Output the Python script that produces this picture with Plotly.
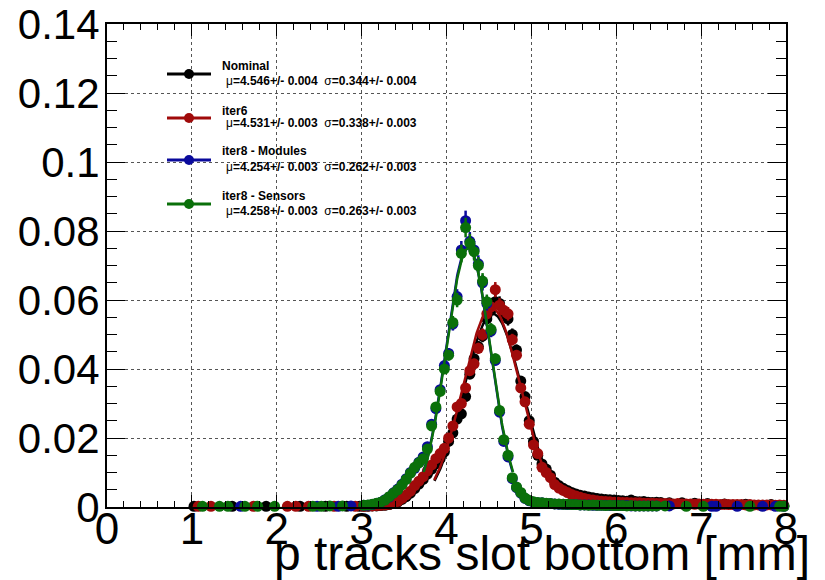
import numpy as np
import plotly.graph_objects as go

# ---------------------------------------------------------------- data
# bin centres (0.05 mm bins) of the populated core region 3.0 - 6.5 mm
core_x = [round(3.025 + 0.05 * k, 3) for k in range(70)]

nominal_core = [
    .0002, .0002, .0003, .0003, .0004, .0005, .0007, .0010, .0014, .0022,
    .0030, .0040, .0053, .0066, .0080, .0095, .0110, .0125, .0140, .0160,
    .0190, .0215, .0255, .0270, .0320, .0385, .0430, .0465, .0495, .0545,
    .0570, .0595, .0590, .0560, .0545, .0500, .0455, .0365, .0320, .0250,
    .0190, .0150, .0125, .0110, .0092, .0072, .0062, .0054, .0048, .0042,
    .0038, .0034, .0032, .0029, .0027, .0025, .0023, .0022, .0021, .0020,
    .0019, .0018, .0017, .0020, .0016, .0015, .0016, .0014, .0013, .0014,
]
iter6_core = [
    .0002, .0003, .0003, .0004, .0005, .0006, .0008, .0011, .0016, .0025,
    .0035, .0046, .0062, .0075, .0088, .0105, .0122, .0140, .0155, .0170,
    .0200, .0235, .0290, .0300, .0345, .0395, .0415, .0460, .0500, .0560,
    .0580, .0630, .0585, .0570, .0560, .0485, .0440, .0345, .0305, .0240,
    .0180, .0155, .0115, .0100, .0085, .0065, .0055, .0048, .0042, .0036,
    .0032, .0028, .0025, .0022, .0020, .0018, .0017, .0016, .0015, .0014,
    .0014, .0013, .0013, .0012, .0012, .0012, .0011, .0011, .0011, .0010,
]
modules_core = [
    .0005, .0005, .0007, .0010, .0014, .0021, .0029, .0041, .0052, .0066,
    .0082, .0100, .0112, .0130, .0145, .0175, .0240, .0285, .0340, .0410,
    .0445, .0530, .0610, .0745, .0830, .0770, .0745, .0705, .0650, .0590,
    .0510, .0425, .0275, .0190, .0145, .0082, .0056, .0040, .0025, .0018,
    .0014, .0012, .0012, .0010, .0010, .0009, .0008, .0008, .0007, .0007,
    .0007, .0006, .0006, .0006, .0005, .0005, .0005, .0005, .0004, .0004,
    .0004, .0004, .0004, .0003, .0003, .0003, .0003, .0003, .0003, .0003,
]
sensors_core = [
    .0005, .0006, .0008, .0011, .0014, .0020, .0030, .0040, .0050, .0064,
    .0080, .0098, .0115, .0128, .0140, .0168, .0235, .0290, .0335, .0400,
    .0440, .0535, .0600, .0735, .0810, .0765, .0740, .0700, .0655, .0595,
    .0515, .0430, .0280, .0195, .0150, .0085, .0058, .0042, .0026, .0019,
    .0015, .0013, .0012, .0011, .0010, .0009, .0009, .0008, .0008, .0007,
    .0007, .0006, .0006, .0005, .0006, .0005, .0005, .0004, .0005, .0004,
    .0004, .0004, .0003, .0004, .0003, .0003, .0003, .0003, .0003, .0003,
]

# sparsely populated tails below 3 mm and above 6.5 mm
nominal_lo_x = [1.025, 1.475, 1.875, 2.275, 2.575, 2.825, 2.975]
nominal_lo_y = [.0002, .0002, .0002, .0002, .0002, .0002, .0002]
nominal_hi_x = [6.525, 6.625, 6.775, 6.925, 7.075, 7.275, 7.525, 7.825]
nominal_hi_y = [.0013, .0012, .0012, .0011, .0010, .0009, .0008, .0007]

iter6_lo_x = [1.075, 1.225, 1.725, 2.125, 2.225, 2.375, 2.675, 2.925]
iter6_lo_y = [.0002, .0002, .0002, .0002, .0002, .0002, .0002, .0002]
iter6_hi_x = [round(6.525 + 0.05 * k, 3) for k in range(30)]
iter6_hi_y = [
    .0010, .0010, .0010, .0009, .0010, .0009, .0009, .0009, .0008, .0009,
    .0008, .0008, .0008, .0008, .0007, .0008, .0007, .0007, .0007, .0007,
    .0006, .0007, .0006, .0006, .0006, .0006, .0006, .0005, .0006, .0005,
]

modules_lo_x = [1.575, 2.475, 2.725, 2.875]
modules_lo_y = [.0002, .0002, .0002, .0003]
modules_hi_x = [6.625, 7.125, 7.175, 7.425, 7.725, 7.875, 7.975]
modules_hi_y = [.0003, .0002, .0002, .0002, .0002, .0002, .0002]

sensors_lo_x = [1.125, 1.325, 1.425, 1.625, 1.775, 1.975, 2.425, 2.525, 2.625, 2.775]
sensors_lo_y = [.0002, .0002, .0002, .0002, .0002, .0002, .0002, .0002, .0003, .0003]
sensors_hi_x = [6.575, 6.825, 7.025, 7.575, 7.925, 7.975]
sensors_hi_y = [.0003, .0002, .0002, .0002, .0002, .0002]

# Gaussian fit results (amplitude, mean, sigma) and their uncertainties
names = ["Nominal", "iter6", "iter8 - Modules", "iter8 - Sensors"]
fit_amp = [0.0560, 0.0577, 0.0755, 0.0750]
fit_mu = [4.546, 4.531, 4.254, 4.258]
fit_mu_err = [0.004, 0.003, 0.003, 0.003]
fit_sigma = [0.344, 0.338, 0.262, 0.263]
fit_sigma_err = [0.004, 0.003, 0.003, 0.003]
colors = ["#000000", "#a00a0a", "#0a0a9c", "#0a700a"]

x_ticks = [0, 1, 2, 3, 4, 5, 6, 7, 8]
y_ticks = [0, 0.02, 0.04, 0.06, 0.08, 0.1, 0.12, 0.14]
y_ticktext = ["0", "0.02", "0.04", "0.06", "0.08", "0.1", "0.12", "0.14"]
x_title = "p tracks slot bottom [mm]"

series = [
    (nominal_lo_x, nominal_lo_y, nominal_core, nominal_hi_x, nominal_hi_y),
    (iter6_lo_x, iter6_lo_y, iter6_core, iter6_hi_x, iter6_hi_y),
    (modules_lo_x, modules_lo_y, modules_core, modules_hi_x, modules_hi_y),
    (sensors_lo_x, sensors_lo_y, sensors_core, sensors_hi_x, sensors_hi_y),
]

# ---------------------------------------------------------------- geometry
W, H = 825, 580
L, R, T, B = 107, 786, 24, 507          # frame of the plotting pad in pixels
FONT = "Liberation Sans, Arial, Helvetica, sans-serif"


def px(x):
    return (x - L) / (R - L)


def py(y):
    return (B - y) / (B - T)


fig = go.Figure()

for i, (lx, ly, cy, hx, hy) in enumerate(series):
    xs = lx + core_x + hx
    ys = ly + cy + hy
    fig.add_trace(go.Scatter(
        x=xs, y=ys, mode="markers",
        marker=dict(size=11, color=colors[i], line=dict(width=0)),
        error_y=dict(type="percent", value=3.5, thickness=2.5, width=0,
                     color=colors[i]),
        cliponaxis=False, showlegend=False, hoverinfo="x+y",
    ))
    # fitted Gaussian over mu +/- 2 sigma
    fx = np.linspace(fit_mu[i] - 2 * fit_sigma[i], fit_mu[i] + 2 * fit_sigma[i], 200)
    fy = fit_amp[i] * np.exp(-0.5 * ((fx - fit_mu[i]) / fit_sigma[i]) ** 2)
    fig.add_trace(go.Scatter(
        x=fx, y=fy, mode="lines",
        line=dict(color=colors[i], width=2.5),
        showlegend=False, hoverinfo="skip",
    ))

# ---------------------------------------------------------------- legend box
legend_name_y = [66, 111, 151, 196]
legend_line_y = [74, 118, 160, 204]
legend_stat_y = [81, 123, 167, 211]
shapes = []
annotations = []
for i in range(4):
    shapes.append(dict(
        type="line", xref="paper", yref="paper",
        x0=px(167), x1=px(211), y0=py(legend_line_y[i]), y1=py(legend_line_y[i]),
        line=dict(color=colors[i], width=3),
    ))
    shapes.append(dict(
        type="circle", xref="paper", yref="paper",
        xsizemode="pixel", ysizemode="pixel",
        xanchor=px(189), yanchor=py(legend_line_y[i]),
        x0=-5, x1=5, y0=-5, y1=5,
        fillcolor=colors[i], line=dict(width=0),
    ))
    annotations.append(dict(
        xref="paper", yref="paper", x=px(220), y=py(legend_name_y[i]),
        xanchor="left", yanchor="middle", showarrow=False,
        text="<b>%s</b>" % names[i],
        font=dict(family=FONT, size=12, color="black"),
    ))
    annotations.append(dict(
        xref="paper", yref="paper", x=px(224), y=py(legend_stat_y[i]),
        xanchor="left", yanchor="middle", showarrow=False,
        text="\u03bc<b>=%.3f+/- %.3f</b>  \u03c3<b>=%.3f+/- %.3f</b>" % (
            fit_mu[i], fit_mu_err[i], fit_sigma[i], fit_sigma_err[i]),
        font=dict(family=FONT, size=12, color="black"),
    ))

# x-axis title, right aligned as in ROOT
annotations.append(dict(
    xref="paper", yref="paper", x=px(812), y=py(553),
    xanchor="right", yanchor="middle", showarrow=False,
    text=x_title, font=dict(family=FONT, size=48, color="black"),
))

axis_common = dict(
    showline=True, linecolor="black", linewidth=2, mirror="allticks",
    ticks="inside", tickcolor="black", tickwidth=1,
    showgrid=True, gridcolor="#555555", gridwidth=1, griddash="dot",
    zeroline=False, automargin=False,
)

fig.update_layout(
    width=W, height=H,
    margin=dict(l=L, r=W - R, t=T, b=H - B, pad=0),
    paper_bgcolor="white", plot_bgcolor="white",
    font=dict(family=FONT, color="black"),
    xaxis=dict(
        range=[0, 8], tickvals=x_ticks, ticklen=12,
        tickfont=dict(family=FONT, size=44), ticklabelstandoff=-18,
        minor=dict(dtick=0.2, ticks="inside", ticklen=6, tickcolor="black",
                   tickwidth=1, showgrid=False),
        **axis_common,
    ),
    yaxis=dict(
        range=[0, 0.14], tickvals=y_ticks, ticktext=y_ticktext, ticklen=18,
        tickfont=dict(family=FONT, size=42), ticklabelstandoff=-3,
        minor=dict(dtick=0.005, ticks="inside", ticklen=10, tickcolor="black",
                   tickwidth=1, showgrid=False),
        **axis_common,
    ),
    shapes=shapes,
    annotations=annotations,
    showlegend=False,
)

fig.write_html("out.html")
